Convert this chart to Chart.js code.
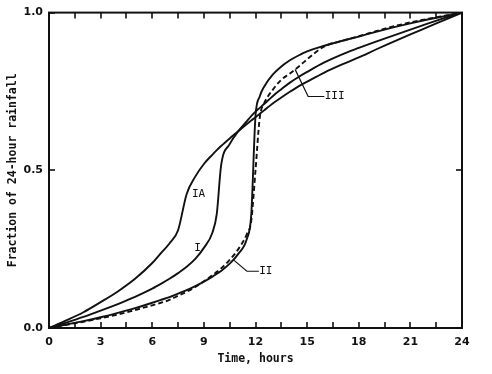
<!DOCTYPE html>
<html><head><meta charset="utf-8">
<script src="https://cdn.jsdelivr.net/npm/chart.js@4/dist/chart.umd.min.js"></script>
<style>html,body{margin:0;padding:0;background:#fff}</style>
</head><body>
<canvas id="c" width="492" height="374" style="display:block;width:492px;height:374px"></canvas>
<script>
// Time, hours
const hours   = [0,1,2,3,4,5,6,6.5,7,7.5,8,8.5,9,9.5,9.75,10,10.5,11,11.5,11.75,12,12.25,12.5,13,13.5,14,14.5,15,16,17,18,19,20,21,22,23,24];
// Fraction of 24-hour rainfall
const typeIA  = [0,0.024,0.050,0.082,0.116,0.156,0.206,0.237,0.268,0.310,0.425,0.480,0.520,0.550,0.564,0.577,0.601,0.624,0.647,0.658,0.668,0.679,0.690,0.712,0.731,0.749,0.766,0.781,0.810,0.835,0.858,0.883,0.907,0.931,0.954,0.977,1.000];
const typeI   = [0,0.017,0.035,0.055,0.076,0.099,0.125,0.140,0.156,0.174,0.194,0.219,0.254,0.303,0.362,0.515,0.583,0.624,0.656,0.672,0.686,0.698,0.710,0.735,0.757,0.778,0.796,0.812,0.842,0.867,0.888,0.908,0.927,0.946,0.965,0.983,1.000];
const typeII  = [0,0.011,0.022,0.034,0.048,0.063,0.080,0.089,0.098,0.109,0.120,0.133,0.147,0.163,0.172,0.181,0.204,0.235,0.283,0.357,0.672,0.735,0.765,0.803,0.829,0.849,0.864,0.877,0.895,0.910,0.924,0.939,0.953,0.966,0.978,0.989,1.000];
const typeIII = [0,0.010,0.020,0.031,0.043,0.057,0.072,0.080,0.089,0.102,0.115,0.130,0.148,0.167,0.178,0.189,0.216,0.250,0.298,0.339,0.500,0.668,0.712,0.755,0.787,0.807,0.828,0.852,0.893,0.910,0.925,0.941,0.956,0.969,0.980,0.990,1.000];
const xTickHours  = [0,1.5,3,4.5,6,7.5,9,10.5,12,13.5,15,16.5,18,19.5,21,22.5,24];
const xLabelHours = [0,3,6,9,12,15,18,21,24];
const yLabelValues = [0,0.5,1];

const curveLabels = [
  {text:'IA',  x:8.69,  y:0.423},
  {text:'I',   x:8.63,  y:0.254},
  {text:'II',  x:12.6,  y:0.18,  leader:[[10.72,0.216],[11.5,0.18],[12.2,0.18]]},
  {text:'III', x:16.6,  y:0.734, leader:[[14.3,0.82],[15.06,0.734],[16.0,0.734]]}
];

const toPts = arr => hours.map((h,i)=>({x:h,y:arr[i]}));
const INK = '#111';

const decor = {
  id:'decor',
  beforeDraw(chart){
    const {ctx,width,height}=chart;
    ctx.save(); ctx.fillStyle='#fff'; ctx.fillRect(0,0,width,height); ctx.restore();
  },
  afterDraw(chart){
    const {ctx, chartArea:a} = chart;
    const x = chart.scales.x, y = chart.scales.y;
    ctx.save();
    ctx.strokeStyle=INK; ctx.lineWidth=2;
    ctx.strokeRect(a.left, a.top, a.right-a.left, a.bottom-a.top);
    ctx.lineWidth=1.6;
    for (const v of xTickHours){
      const px=Math.round(x.getPixelForValue(v));
      ctx.beginPath(); ctx.moveTo(px,a.bottom); ctx.lineTo(px,a.bottom-6); ctx.stroke();
      ctx.beginPath(); ctx.moveTo(px,a.top); ctx.lineTo(px,a.top+6); ctx.stroke();
    }
    for (const v of yLabelValues){
      const py=Math.round(y.getPixelForValue(v));
      ctx.beginPath(); ctx.moveTo(a.left,py); ctx.lineTo(a.left+6,py); ctx.stroke();
      ctx.beginPath(); ctx.moveTo(a.right,py); ctx.lineTo(a.right-6,py); ctx.stroke();
    }
    ctx.fillStyle=INK;
    ctx.font='11px "DejaVu Sans Mono"';
    ctx.textAlign='center'; ctx.textBaseline='middle';
    ctx.lineWidth=1.2;
    curveLabels.forEach(l=>{
      ctx.fillText(l.text, x.getPixelForValue(l.x), y.getPixelForValue(l.y));
      if(l.leader){
        ctx.beginPath();
        l.leader.forEach((p,i)=>{
          const px=x.getPixelForValue(p[0]), py=y.getPixelForValue(p[1]);
          if(i===0) ctx.moveTo(px,py); else ctx.lineTo(px,py);
        });
        ctx.stroke();
      }
    });
    ctx.restore();
  }
};

const ds = (label, arr, dash) => ({
  label, data: toPts(arr), borderColor: INK, borderWidth: 1.9,
  borderDash: dash || [], pointRadius: 0, fill: false,
  cubicInterpolationMode: 'monotone'
});

new Chart(document.getElementById('c'), {
  type: 'line',
  data: { datasets: [
    ds('Type IA', typeIA),
    ds('Type I', typeI),
    ds('Type II', typeII),
    ds('Type III', typeIII, [5,3])
  ]},
  options: {
    responsive: false, animation: false, devicePixelRatio: 1,
    layout: { padding: { left: 0, right: 30, top: 6, bottom: 0 } },
    plugins: { legend: { display: false }, tooltip: { enabled: false } },
    scales: {
      x: {
        type: 'linear', min: 0, max: 24,
        afterFit: s => { s.height = 46; },
        afterBuildTicks: s => { s.ticks = xTickHours.map(v => ({value: v})); },
        grid: { display: false, drawTicks: false },
        border: { display: false },
        ticks: {
          autoSkip: false, maxRotation: 0, padding: 8, color: INK,
          font: { family: 'DejaVu Sans', size: 11, weight: 'bold' },
          callback: v => xLabelHours.includes(v) ? String(v) : ''
        },
        title: { display: true, text: 'Time, hours', color: INK,
          font: { family: 'DejaVu Sans Mono', size: 11.5, weight: 'bold' },
          padding: { top: 0, bottom: 8 } }
      },
      y: {
        min: 0, max: 1,
        afterFit: s => { s.width = 49; },
        afterBuildTicks: s => { s.ticks = yLabelValues.map(v => ({value: v})); },
        grid: { display: false, drawTicks: false },
        border: { display: false },
        ticks: {
          padding: 6, color: INK,
          font: { family: 'DejaVu Sans', size: 11, weight: 'bold' },
          callback: v => v.toFixed(1)
        },
        title: { display: true, text: 'Fraction of 24-hour rainfall', color: INK,
          font: { family: 'DejaVu Sans Mono', size: 11.5, weight: 'bold' },
          padding: { top: 6, bottom: 0 } }
      }
    }
  },
  plugins: [decor]
});
</script>
</body></html>
